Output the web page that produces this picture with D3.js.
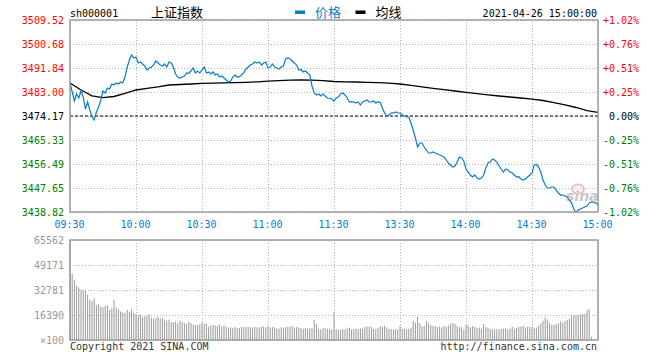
<!DOCTYPE html>
<html lang='zh'>
  <head>
    <meta charset='utf-8'>
    <style type='text/css'>
      body { margin: 0; background-color: #fff; }
      #chart { width: 660px; height: 360px; }
      text { font-family: 'DejaVu Sans Mono', monospace; font-size: 10px; }
      .cjk { font-family: 'Noto Sans CJK SC', sans-serif; font-size: 13px; }
    </style>
  </head>
  <body>
    <div id='chart'><svg width='660' height='360'></svg></div>

    <script src='https://d3js.org/d3.v7.min.js'></script>
    <script type='text/javascript'>
        // ---- data ----
        var code = "sh000001";
        var name = "上证指数";
        var stamp = "2021-04-26 15:00:00";

        var priceTicks = [3438.82, 3447.65, 3456.49, 3465.33, 3474.17, 3483.00, 3491.84, 3500.68, 3509.52];
        var pctLabels  = ["-1.02%", "-0.76%", "-0.51%", "-0.25%", "0.00%", "+0.25%", "+0.51%", "+0.76%", "+1.02%"];
        var timeLabels = ["09:30", "10:00", "10:30", "11:00", "11:30", "13:30", "14:00", "14:30", "15:00"];
        var timeIndex  = [0, 30, 60, 90, 120, 150, 180, 210, 240];
        var volTicks   = [0, 16390, 32781, 49171, 65562];
        var volLabels  = ["×100", "16390", "32781", "49171", "65562"];
        var prevClose  = 3474.17;

        // one value per minute, 09:30-11:30 then 13:00-15:00 (241 points)
        var price = [
          3486.32, 3483.01, 3479.69, 3482.27, 3480.80, 3483.38, 3481.17, 3476.75, 3479.33, 3476.38,
          3473.80, 3472.70, 3475.64, 3477.48, 3480.06, 3483.38, 3482.64, 3484.48, 3484.11, 3485.96,
          3485.59, 3486.32, 3485.96, 3486.69, 3486.32, 3488.53, 3492.22, 3494.80, 3496.64, 3495.53,
          3495.90, 3493.69, 3494.06, 3493.32, 3492.59, 3491.11, 3491.85, 3492.22, 3492.95, 3494.43,
          3493.69, 3492.95, 3492.59, 3493.32, 3492.22, 3494.06, 3493.69, 3492.22, 3489.64, 3488.53,
          3488.17, 3488.53, 3488.90, 3490.01, 3489.85, 3490.74, 3491.85, 3490.01, 3490.74, 3490.01,
          3491.11, 3492.22, 3490.01, 3490.38, 3489.64, 3490.38, 3489.27, 3489.64, 3488.53, 3488.90,
          3488.17, 3487.43, 3486.69, 3487.06, 3488.53, 3489.27, 3488.53, 3488.66, 3489.27, 3490.01,
          3491.48, 3492.22, 3492.95, 3493.32, 3494.06, 3493.69, 3494.06, 3492.95, 3493.69, 3494.06,
          3491.85, 3492.22, 3493.32, 3492.22, 3491.85, 3491.48, 3492.22, 3492.59, 3495.16, 3495.53,
          3495.16, 3494.43, 3493.69, 3492.95, 3491.11, 3491.30, 3490.38, 3490.74, 3490.01, 3489.27,
          3485.22, 3482.64, 3481.90, 3482.27, 3481.54, 3482.27, 3481.54, 3480.80, 3480.70, 3480.43,
          3479.69, 3480.80, 3481.17, 3482.27, 3482.64, 3481.90, 3480.80, 3479.33, 3479.45, 3479.33,
          3478.96, 3479.33, 3478.22, 3479.33, 3479.69, 3480.06, 3479.33, 3479.40, 3479.69, 3478.96,
          3479.33, 3479.20, 3477.12, 3475.27, 3474.17, 3474.54, 3475.27, 3475.30, 3475.64, 3475.27,
          3475.27, 3474.54, 3474.17, 3473.80, 3473.80, 3471.59, 3469.01, 3466.07, 3462.75, 3464.23,
          3464.23, 3462.75, 3461.65, 3460.54, 3460.54, 3460.91, 3460.54, 3460.17, 3459.81, 3459.44,
          3459.07, 3457.96, 3456.86, 3456.12, 3455.39, 3455.75, 3457.23, 3459.07, 3458.70, 3457.60,
          3454.65, 3453.54, 3452.44, 3451.70, 3452.44, 3451.33, 3450.97, 3451.33, 3452.44, 3455.02,
          3456.86, 3457.23, 3458.33, 3457.96, 3457.23, 3455.75, 3454.65, 3453.54, 3454.65, 3454.28,
          3453.54, 3453.17, 3452.44, 3451.70, 3451.80, 3450.97, 3450.60, 3450.97, 3451.70, 3452.44,
          3453.17, 3456.12, 3456.30, 3455.39, 3453.54, 3450.60, 3448.76, 3447.65, 3447.65, 3448.02,
          3448.02, 3446.91, 3445.81, 3445.07, 3445.07, 3444.70, 3444.34, 3443.23, 3442.13, 3439.92,
          3438.82, 3439.55, 3439.92, 3440.28, 3440.65, 3441.02, 3442.13, 3442.49, 3442.49, 3442.13,
          3441.39
        ];

        // average price line, read every 5 minutes
        var avgIndex = d3.range(0, 241, 5);
        var avgPrice = [
          3486.30, 3483.75, 3481.60, 3480.95, 3481.35, 3482.46, 3483.75, 3484.37, 3484.93, 3485.59,
          3485.77, 3485.96, 3486.18, 3486.29, 3486.40, 3486.47, 3486.58, 3486.77, 3486.99, 3487.21,
          3487.39, 3487.43, 3487.36, 3487.17, 3486.88, 3486.77, 3486.69, 3486.58, 3486.47, 3486.29,
          3485.96, 3485.48, 3484.93, 3484.37, 3483.86, 3483.38, 3482.90, 3482.42, 3481.98, 3481.54,
          3481.17, 3480.80, 3480.39, 3479.88, 3479.07, 3478.30, 3477.30, 3476.12, 3475.53
        ];

        // volume per minute (x100 shares)
        var volume = [
          65562, 43500, 39300, 35400, 34300, 32800, 32300, 32800, 29500, 26200,
          25600, 27300, 22900, 23600, 21900, 21400, 22300, 22700, 19700, 20800,
          26200, 21200, 20100, 18600, 18100, 17700, 19700, 18600, 20300, 17900,
          17000, 16200, 16600, 15100, 15300, 16000, 16800, 14600, 14000, 14400,
          15300, 14000, 14400, 13500, 12700, 13500, 12000, 11600, 12200, 10900,
          12500, 12000, 10900, 10500, 11800, 10900, 10100, 9800, 9800, 10300,
          11800, 10500, 10900, 8700, 9400, 9800, 9600, 9200, 10100, 8700,
          9600, 8700, 8100, 8300, 7900, 8500, 7900, 7900, 8700, 8500,
          8500, 8500, 8300, 8100, 8700, 8300, 8300, 8500, 9000, 8300,
          9200, 8100, 8500, 8100, 7600, 7400, 8300, 7900, 8500, 8700,
          8700, 9000, 8100, 8500, 8100, 7900, 7400, 7900, 7400, 7600,
          7600, 13100, 10500, 7400, 7000, 7600, 7900, 7400, 7000, 6600,
          18600, 7000, 6800, 6800, 7200, 7000, 7600, 8100, 7000, 7000,
          7400, 7200, 7400, 7400, 8500, 9000, 8700, 8500, 7200, 7000,
          7900, 9200, 8700, 9400, 8100, 7400, 7200, 7000, 7200, 6800,
          9200, 7600, 7400, 7000, 7200, 8100, 12500, 11400, 15100, 11100,
          9000, 9200, 12200, 11100, 9800, 9200, 9200, 8300, 8700, 8300,
          9200, 8700, 9400, 10700, 11100, 10700, 9000, 8300, 8500, 6800,
          9800, 9600, 8300, 9200, 8700, 7600, 8100, 7400, 10500, 8500,
          8100, 7400, 7000, 7000, 7000, 7000, 7000, 7400, 7600, 7000,
          7600, 8700, 7200, 8100, 8500, 9000, 9200, 8100, 8500, 8700,
          8300, 7600, 8100, 9200, 10900, 12700, 14900, 13500, 11400, 9800,
          10100, 10500, 10900, 12000, 11400, 12500, 13100, 14200, 15700, 16000,
          16200, 16400, 16800, 17000, 17000, 19700, 20300, 2200, 0, 0,
          0
        ];

        // ---- layout ----
        var svg = d3.select("#chart svg");
        var left = 70, right = 598;
        var pTop = 20, pBottom = 212;
        var vTop = 240, vBottom = 340;

        var x  = d3.scaleLinear().domain([0, 240]).range([left, right]);
        var y  = d3.scaleLinear().domain([priceTicks[0], priceTicks[8]]).range([pBottom, pTop]);
        var yv = d3.scaleLinear().domain([0, 65562]).range([vBottom, vTop]);

        var blue = "#0a7cc8", gridCol = "#b4b4b4", frameCol = "#9c9c9c";

        function labelColor(v) {
          if (Math.abs(v - prevClose) < 0.01) return "#000";
          return v > prevClose ? "#f00" : "#008000";
        }

        // ---- header ----
        svg.append("text").attr("x", 70).attr("y", 16.5).attr("fill", "#000").text(code);
        svg.append("text").attr("class", "cjk").attr("x", 151).attr("y", 16.5).attr("fill", "#000").text(name);
        svg.append("rect").attr("x", 295).attr("y", 10.5).attr("width", 10).attr("height", 3.5).attr("fill", blue);
        svg.append("text").attr("class", "cjk").attr("x", 315).attr("y", 16.5).attr("fill", blue).text("价格");
        svg.append("rect").attr("x", 355.5).attr("y", 10.5).attr("width", 10).attr("height", 3.5).attr("fill", "#000");
        svg.append("text").attr("class", "cjk").attr("x", 375.5).attr("y", 16.5).attr("fill", "#000").text("均线");
        svg.append("text").attr("x", 597).attr("y", 16.5).attr("text-anchor", "end").attr("fill", "#000").text(stamp);

        // ---- price panel: grid + axes ----
        var gy = svg.append("g").attr("transform", "translate(" + left + ",0)")
            .call(d3.axisLeft(y).tickValues(priceTicks).tickSize(-(right - left)).tickPadding(6)
              .tickFormat(function(d) { return d.toFixed(2); }));
        gy.select(".domain").remove();
        gy.selectAll(".tick line").attr("stroke", gridCol).attr("stroke-dasharray", "1,2");
        gy.selectAll(".tick text").attr("fill", function(d) { return labelColor(d); })
          .style("font-family", "'DejaVu Sans Mono', monospace").style("font-size", "10px");

        // percent labels, right-aligned at x = 639
        var gr = svg.append("g").attr("transform", "translate(" + right + ",0)")
            .call(d3.axisRight(y).tickValues(priceTicks).tickSize(0).tickPadding(41)
              .tickFormat(function(d, i) { return pctLabels[i]; }));
        gr.select(".domain").remove();
        gr.selectAll(".tick text").attr("fill", function(d) { return labelColor(d); })
          .attr("text-anchor", "end")
          .style("font-family", "'DejaVu Sans Mono', monospace").style("font-size", "10px");

        var gx = svg.append("g").attr("transform", "translate(0," + pBottom + ")")
            .call(d3.axisBottom(x).tickValues(timeIndex).tickSize(-(pBottom - pTop)).tickPadding(9)
              .tickFormat(function(d, i) { return timeLabels[i]; }));
        gx.select(".domain").remove();
        gx.selectAll(".tick line").attr("stroke", gridCol).attr("stroke-dasharray", "1,2");
        gx.selectAll(".tick text").attr("fill", "#0b7bd0").attr("dx", "-1")
          .style("font-family", "'DejaVu Sans Mono', monospace").style("font-size", "10px");

        // previous close reference
        svg.append("line").attr("x1", left).attr("x2", right)
          .attr("y1", y(prevClose)).attr("y2", y(prevClose))
          .attr("stroke", "#000").attr("stroke-dasharray", "3,2");

        // watermark
        var wm = svg.append("g").attr("opacity", 0.55);
        wm.append("ellipse").attr("cx", 578).attr("cy", 189).attr("rx", 6).attr("ry", 4.5)
          .attr("fill", "none").attr("stroke", "#e88").attr("stroke-width", 2);
        wm.append("text").attr("x", 566).attr("y", 201).attr("fill", "#999")
          .style("font-family", "'DejaVu Sans', sans-serif").style("font-size", "14px")
          .style("font-style", "italic").style("font-weight", "bold").text("sina");

        // lines
        var avgLine = d3.line().x(function(d, i) { return x(avgIndex[i]); }).y(function(d) { return y(d); });
        svg.append("path").datum(avgPrice).attr("d", avgLine)
          .attr("fill", "none").attr("stroke", "#000").attr("stroke-width", 1.3);

        var priceLine = d3.line().x(function(d, i) { return x(i); }).y(function(d) { return y(d); });
        svg.append("path").datum(price).attr("d", priceLine)
          .attr("fill", "none").attr("stroke", blue).attr("stroke-width", 1.2);

        svg.append("rect").attr("x", left).attr("y", pTop).attr("width", right - left).attr("height", pBottom - pTop)
          .attr("fill", "none").attr("stroke", frameCol).attr("stroke-width", 1.5);

        // ---- volume panel ----
        var gv = svg.append("g").attr("transform", "translate(" + left + ",0)")
            .call(d3.axisLeft(yv).tickValues(volTicks).tickSize(-(right - left)).tickPadding(6)
              .tickFormat(function(d, i) { return volLabels[i]; }));
        gv.select(".domain").remove();
        gv.selectAll(".tick line").attr("stroke", gridCol).attr("stroke-dasharray", "1,2");
        gv.selectAll(".tick text").attr("fill", "#999")
          .style("font-family", "'DejaVu Sans Mono', monospace").style("font-size", "10px");

        var gvx = svg.append("g").attr("transform", "translate(0," + vBottom + ")")
            .call(d3.axisBottom(x).tickValues(timeIndex).tickSize(-(vBottom - vTop)).tickFormat(""));
        gvx.select(".domain").remove();
        gvx.selectAll(".tick line").attr("stroke", gridCol).attr("stroke-dasharray", "1,2");

        svg.append("g").selectAll("rect").data(volume).enter().append("rect")
          .attr("x", function(d, i) { return x(i) - 0.5; })
          .attr("y", function(d) { return yv(d); })
          .attr("width", 1)
          .attr("height", function(d) { return vBottom - yv(d); })
          .attr("fill", "#999");

        svg.append("rect").attr("x", left).attr("y", vTop).attr("width", right - left).attr("height", vBottom - vTop)
          .attr("fill", "none").attr("stroke", frameCol).attr("stroke-width", 1.5);

        svg.append("text").attr("x", 70).attr("y", 350).attr("fill", "#333").text("Copyright 2021 SINA.COM");
        svg.append("text").attr("x", 597).attr("y", 350).attr("text-anchor", "end").attr("fill", "#333")
          .text("http://finance.sina.com.cn");
    </script>
  </body>
</html>
